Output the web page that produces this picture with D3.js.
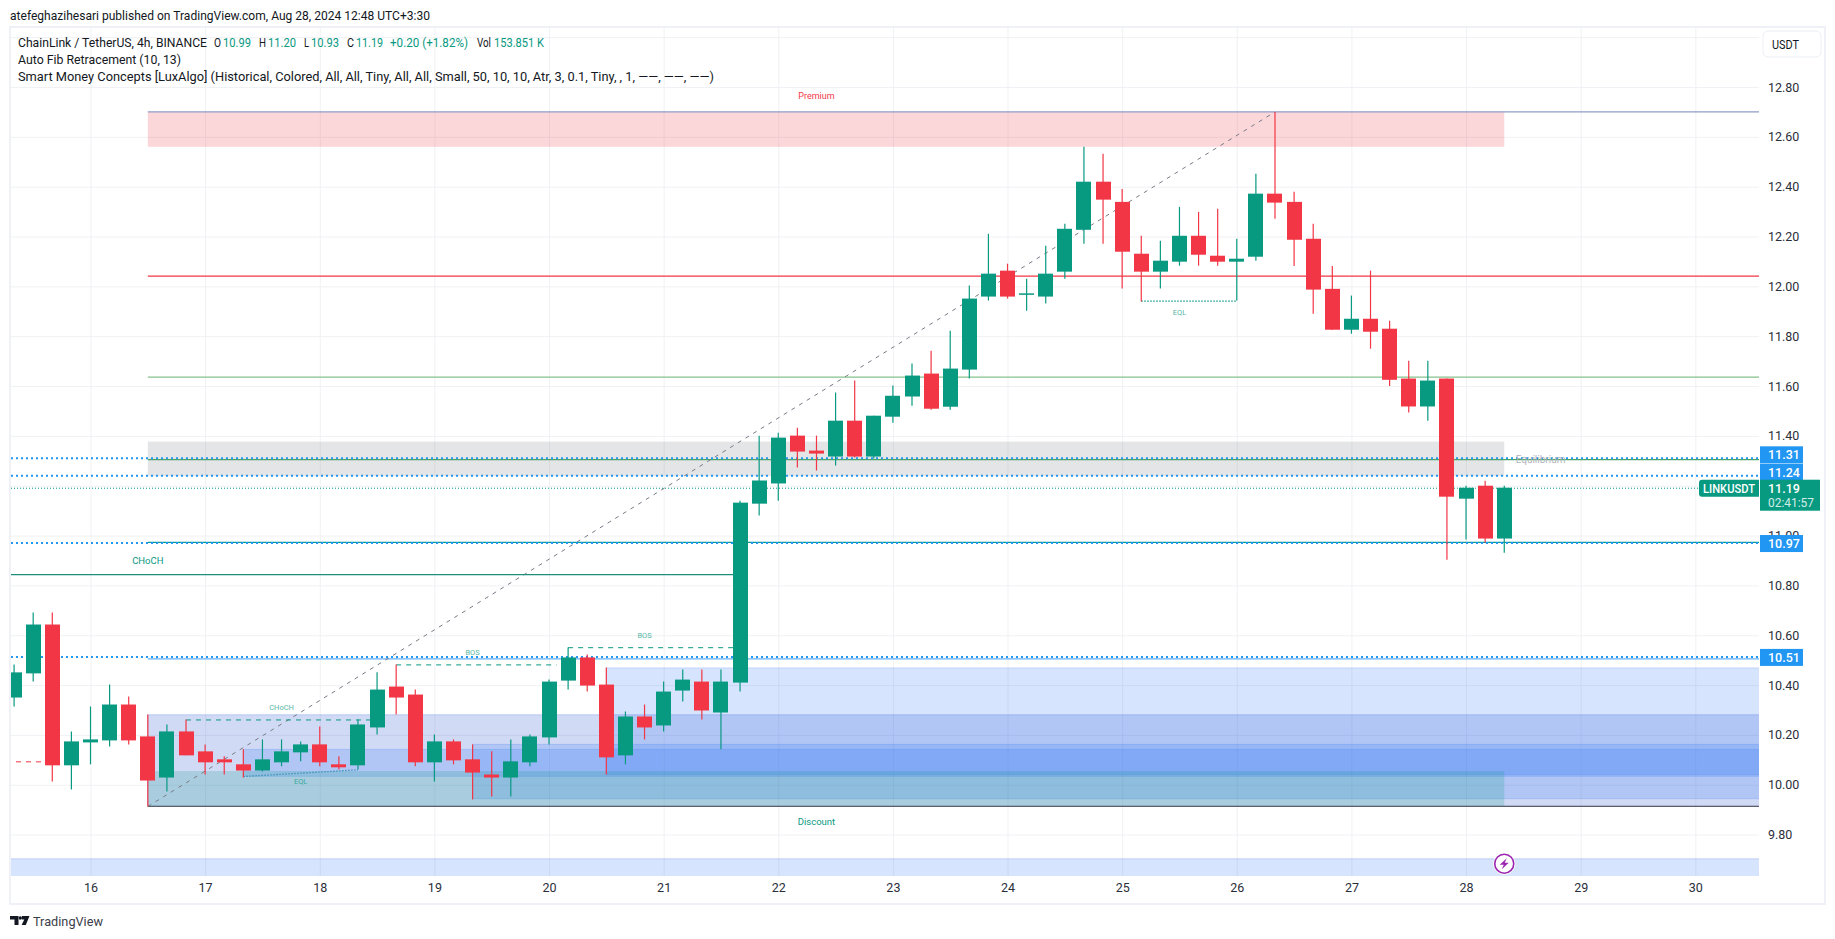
<!DOCTYPE html>
<html lang="en">
<head>
    <meta charset="UTF-8">
    <script src="https://d3js.org/d3.v7.min.js"></script>
    <title>LINKUSDT 4h</title>
    <style>
        html, body { margin: 0; padding: 0; background: #fff; }
        svg { display: block; }
        text { font-family: Roboto, sans-serif; }
    </style>
</head>
<body>
    <div id="chart"></div>
    <script>
        // candles, 4h, first one is clipped by the left edge
        const opens = [10.350,10.447,10.643,10.078,10.170,10.178,10.322,10.194,10.029,10.214,
            10.134,10.102,10.082,10.057,10.090,10.130,10.162,10.082,10.078,10.230,
            10.394,10.362,10.090,10.174,10.102,10.041,10.029,10.090,10.190,10.418,
            10.511,10.402,10.118,10.274,10.238,10.378,10.414,10.290,10.410,11.128,
            11.209,11.401,11.341,11.317,11.461,11.317,11.477,11.558,11.650,11.517,
            11.666,11.959,12.063,11.967,11.959,12.059,12.227,12.420,12.339,12.131,
            12.059,12.099,12.203,12.123,12.099,12.119,12.372,12.339,12.191,11.990,
            11.826,11.870,11.830,11.630,11.518,11.630,11.148,11.200,10.988];
        const closes = [10.451,10.643,10.078,10.174,10.182,10.322,10.178,10.017,10.214,10.118,
            10.090,10.090,10.057,10.102,10.134,10.162,10.090,10.070,10.242,10.382,
            10.350,10.090,10.174,10.098,10.049,10.029,10.094,10.194,10.414,10.511,
            10.398,10.110,10.274,10.230,10.374,10.422,10.298,10.414,11.132,11.221,
            11.393,11.337,11.329,11.461,11.317,11.481,11.561,11.642,11.509,11.670,
            11.951,12.051,11.959,11.972,12.051,12.231,12.420,12.348,12.139,12.059,
            12.103,12.203,12.127,12.099,12.111,12.372,12.336,12.187,11.987,11.826,
            11.870,11.818,11.625,11.518,11.622,11.156,11.192,10.988,11.192];
        const highs = [10.483,10.691,10.691,10.214,10.314,10.402,10.354,10.282,10.242,10.262,
            10.162,10.114,10.142,10.182,10.182,10.174,10.234,10.114,10.262,10.451,
            10.483,10.382,10.202,10.182,10.162,10.134,10.182,10.202,10.422,10.551,
            10.523,10.471,10.294,10.322,10.414,10.463,10.463,10.463,11.140,11.401,
            11.413,11.433,11.401,11.574,11.622,11.481,11.602,11.690,11.742,11.822,
            12.003,12.211,12.091,12.031,12.163,12.251,12.560,12.532,12.391,12.203,
            12.183,12.319,12.299,12.311,12.191,12.452,12.700,12.380,12.251,12.082,
            11.963,12.063,11.862,11.701,11.701,11.630,11.200,11.220,11.200];
        const lows = [10.314,10.414,10.013,9.981,10.082,10.154,10.162,9.913,9.973,10.118,
            10.041,10.041,10.029,10.053,10.074,10.094,10.074,10.061,10.061,10.202,
            10.282,10.074,10.013,10.082,9.941,9.953,9.953,10.074,10.162,10.382,
            10.374,10.041,10.082,10.182,10.214,10.334,10.262,10.142,10.374,11.080,
            11.140,11.273,11.261,11.281,11.313,11.309,11.453,11.521,11.505,11.505,
            11.630,11.943,11.951,11.902,11.931,12.031,12.171,12.171,11.991,11.939,
            11.991,12.083,12.083,12.083,11.943,12.103,12.271,12.082,11.890,11.826,
            11.810,11.750,11.600,11.494,11.461,10.903,10.984,10.972,10.931];

        const priceTicks = [9.8,10,10.2,10.4,10.6,10.8,11,11.2,11.4,11.6,11.8,12,12.2,12.4,12.6,12.8,13];
        const hiddenPriceTicks = [13];
        const dayTicks = [16,17,18,19,20,21,22,23,24,25,26,27,28,29,30];

        // order blocks: first candle, top, bottom
        const blockStarts = [7, 12, 24, 31];
        const blockTops = [10.281, 10.142, 10.162, 10.469];
        const blockBottoms = [9.914, 10.034, 9.944, 10.041];
        const swingBlock = 7;

        const zoneStart = 7, zoneEnd = 78;
        const premiumTop = 12.70, premiumBottom = 12.56;
        const equilibriumTop = 11.377, equilibriumBottom = 11.238;
        const discountTop = 10.055, discountBottom = 9.913;
        const lowestBandTop = 9.703;

        const fibLevels = [12.70, 12.041, 11.636, 11.305, 10.973, 10.505, 9.913];
        const fibColors = ['#8f9dc9', '#f23645', '#86c28b', '#4fa463', '#0b9b93', '#64b0f6', '#5d606b'];
        const fibFrom = {i: 7, p: 9.913}, fibTo = {i: 66, p: 12.70};

        const priceLines = [11.31, 11.24, 10.97, 10.513];
        const priceLineTags = [{v: '11.31', p: 11.324}, {v: '11.24', p: 11.254}, {v: '10.97', p: 10.968}, {v: '10.51', p: 10.511}];
        const lastPrice = 11.19;
        const chochLevel = 10.843;

        // structure lines: from candle, to candle, level
        const dashLines = [
            {a: 9, b: 19, p: 10.26, c: '#089981'},
            {a: 20, b: 28.4, p: 10.481, c: '#089981'},
            {a: 29, b: 38, p: 10.55, c: '#089981'},
            {a: 0.1, b: 2, p: 10.092, c: '#f23645'}
        ];
        const eqLines = [
            {a: 12, pa: 10.033, b: 18, pb: 10.06, c: '#3f93b8'},
            {a: 59, pa: 11.941, b: 64, pb: 11.941, c: '#089981'}
        ];

        const width = 1835, height = 939;
        const plotL = 11, plotR = 1759, plotT = 28, plotB = 876;

        const y = d3.scaleLinear().domain([9.8, 12.8]).range([834.6, 87]);
        const x = d3.scaleLinear().domain([16, 30]).range([90.5, 1695.3]);
        const xi = i => x(15 + (i + 2) / 6);

        const svg = d3.select('#chart').append('svg').attr('width', width).attr('height', height);

        svg.append('defs').append('clipPath').attr('id', 'plot')
            .append('rect').attr('x', plotL).attr('y', plotT).attr('width', plotR - plotL).attr('height', plotB - plotT);

        // frame
        svg.append('rect').attr('x', 10).attr('y', 27).attr('width', 1815).attr('height', 877)
            .attr('fill', 'none').attr('stroke', '#f0f1f6').attr('stroke-width', 2);

        // grid + axes
        const gridX = svg.append('g').attr('transform', `translate(0,${plotB})`)
            .call(d3.axisBottom(x).tickValues(dayTicks).tickSize(-(plotB - plotT)).tickSizeOuter(0).tickFormat(d3.format('d')));
        gridX.select('.domain').remove();
        gridX.selectAll('line').attr('stroke', '#f0f1f4');
        gridX.selectAll('text').attr('y', 7.5).attr('dy', '0.71em').attr('font-size', 12.5).attr('fill', '#2a2e39');

        const gridY = svg.append('g').attr('transform', `translate(${plotR},0)`)
            .call(d3.axisRight(y).tickValues(priceTicks).tickSize(0).tickPadding(9).tickFormat(d3.format('.2f')));
        gridY.select('.domain').remove();
        gridY.selectAll('line').attr('x2', plotL - plotR).attr('stroke', '#f0f1f4');
        gridY.selectAll('text').attr('font-size', 12.5).attr('fill', '#2a2e39')
            .filter(d => hiddenPriceTicks.includes(d)).remove();

        const plot = svg.append('g').attr('clip-path', 'url(#plot)');

        // zones
        function zone(from, to, pTop, pBottom, fill) {
            return plot.append('rect')
                .attr('x', xi(from)).attr('width', xi(to) - xi(from))
                .attr('y', y(pTop)).attr('height', y(pBottom) - y(pTop))
                .attr('fill', fill);
        }

        // blocks run off the right edge
        blockStarts.forEach((s, k) => {
            let c = s === swingBlock ? '24,72,204' : '49,121,245';
            zone(s, 95, blockTops[k], blockBottoms[k], `rgba(${c},0.2)`)
                .attr('stroke', `rgba(${c},0.2)`);
        });
        zone(-10, 95, lowestBandTop, 9.4, 'rgba(49,121,245,0.2)').attr('stroke', 'rgba(24,72,204,0.2)');

        zone(zoneStart, zoneEnd, premiumTop, premiumBottom, 'rgba(242,54,69,0.2)');
        zone(zoneStart, zoneEnd, equilibriumTop, equilibriumBottom, 'rgba(120,123,134,0.2)');
        zone(zoneStart, zoneEnd, discountTop, discountBottom, 'rgba(8,153,129,0.2)');

        // fib levels
        plot.selectAll('line.fib').data(fibLevels).join('line').attr('class', 'fib')
            .attr('x1', xi(zoneStart)).attr('x2', plotR)
            .attr('y1', d => y(d)).attr('y2', d => y(d))
            .attr('stroke', (d, k) => fibColors[k]).attr('stroke-width', 1.2);

        plot.append('line')
            .attr('x1', xi(fibFrom.i)).attr('y1', y(fibFrom.p))
            .attr('x2', xi(fibTo.i)).attr('y2', y(fibTo.p))
            .attr('stroke', '#787b86').attr('stroke-width', 1).attr('stroke-dasharray', '4 5');

        // break of structure stuff
        plot.append('line').attr('x1', plotL).attr('x2', xi(38))
            .attr('y1', y(chochLevel)).attr('y2', y(chochLevel))
            .attr('stroke', '#1f8f7d').attr('stroke-width', 1.2);

        plot.selectAll('line.dash').data(dashLines).join('line').attr('class', 'dash')
            .attr('x1', d => xi(d.a)).attr('x2', d => xi(d.b))
            .attr('y1', d => y(d.p)).attr('y2', d => y(d.p))
            .attr('stroke', d => d.c).attr('stroke-width', 1).attr('stroke-dasharray', '5 5');

        plot.selectAll('line.eq').data(eqLines).join('line').attr('class', 'eq')
            .attr('x1', d => xi(d.a)).attr('x2', d => xi(d.b))
            .attr('y1', d => y(d.pa)).attr('y2', d => y(d.pb))
            .attr('stroke', d => d.c).attr('stroke-width', 1.3).attr('stroke-dasharray', '1.5 1.5');

        // dotted price lines
        plot.selectAll('line.price').data(priceLines).join('line').attr('class', 'price')
            .attr('x1', plotL).attr('x2', plotR)
            .attr('y1', d => y(d)).attr('y2', d => y(d))
            .attr('stroke', '#2196f3').attr('stroke-width', 2).attr('stroke-dasharray', '2 3');

        plot.append('line').attr('x1', plotL).attr('x2', plotR)
            .attr('y1', y(lastPrice)).attr('y2', y(lastPrice))
            .attr('stroke', '#089981').attr('stroke-width', 1).attr('stroke-dasharray', '1 2');

        // candles
        const candles = plot.selectAll('g.candle').data(opens).join('g').attr('class', 'candle')
            .attr('fill', (d, i) => closes[i] >= d ? '#089981' : '#f23645')
            .attr('stroke', (d, i) => closes[i] >= d ? '#089981' : '#f23645');
        candles.append('line')
            .attr('x1', (d, i) => xi(i)).attr('x2', (d, i) => xi(i))
            .attr('y1', (d, i) => y(highs[i])).attr('y2', (d, i) => y(lows[i]))
            .attr('stroke-width', 1.2);
        candles.append('rect')
            .attr('x', (d, i) => Math.round(xi(i) - 7.5)).attr('width', 15)
            .attr('y', (d, i) => y(Math.max(d, closes[i])))
            .attr('height', (d, i) => Math.max(1.5, Math.abs(y(d) - y(closes[i]))))
            .attr('stroke', 'none');

        // chart labels
        const labels = [
            {t: 'Premium', i: 42, p: 12.762, c: '#f23645', s: 9},
            {t: 'Discount', i: 42, p: 9.853, c: '#089981', s: 9.5},
            {t: 'CHoCH', i: 7, p: 10.90, c: '#089981', s: 9.5},
            {t: 'CHoCH', i: 14, p: 10.312, c: '#089981', s: 7.5, o: 0.7},
            {t: 'EQL', i: 15, p: 10.014, c: '#089981', s: 7.5, o: 0.7},
            {t: 'EQL', i: 61, p: 11.894, c: '#089981', s: 7.5, o: 0.7},
            {t: 'BOS', i: 24, p: 10.532, c: '#089981', s: 7.5, o: 0.7},
            {t: 'BOS', i: 33, p: 10.6, c: '#089981', s: 7.5, o: 0.7},
            {t: 'Equilibrium', i: 79.9, p: 11.305, c: '#b2b5be', s: 10}
        ];
        svg.append('g').selectAll('text').data(labels).join('text')
            .attr('x', d => xi(d.i)).attr('y', d => y(d.p))
            .attr('text-anchor', 'middle').attr('dominant-baseline', 'central')
            .attr('font-size', d => d.s).attr('fill', d => d.c).attr('opacity', d => d.o || 1)
            .text(d => d.t);

        // price tags
        const tags = svg.append('g').selectAll('g').data(priceLineTags).join('g')
            .attr('transform', d => `translate(1760,${y(d.p)})`);
        tags.append('rect').attr('y', -8.5).attr('width', 43).attr('height', 17).attr('fill', '#2196f3');
        tags.append('text').attr('x', 8).attr('dominant-baseline', 'central').attr('font-size', 12.5)
            .attr('font-weight', 500).attr('fill', '#fff').text(d => d.v);

        const yLast = y(lastPrice);
        svg.append('path')
            .attr('d', `M1759 ${yLast - 8.5}H1702a3 3 0 0 0 -3 3V${yLast + 5.5}a3 3 0 0 0 3 3H1759Z`)
            .attr('fill', '#089981');
        svg.append('text').attr('x', 1703).attr('y', yLast).attr('dominant-baseline', 'central')
            .attr('font-size', 13).attr('font-weight', 500).attr('fill', '#fff')
            .attr('textLength', 52).attr('lengthAdjust', 'spacingAndGlyphs').text('LINKUSDT');
        svg.append('rect').attr('x', 1760).attr('y', yLast - 8.5).attr('width', 60).attr('height', 31).attr('fill', '#089981');
        svg.append('text').attr('x', 1768).attr('y', yLast).attr('dominant-baseline', 'central')
            .attr('font-size', 12.5).attr('font-weight', 500).attr('fill', '#fff').text(lastPrice.toFixed(2));
        svg.append('text').attr('x', 1768).attr('y', yLast + 14.5).attr('dominant-baseline', 'central')
            .attr('font-size', 13).attr('fill', '#d2ece7')
            .attr('textLength', 46).attr('lengthAdjust', 'spacingAndGlyphs').text('02:41:57');

        // currency button
        svg.append('rect').attr('x', 1763).attr('y', 31).attr('width', 58).attr('height', 26).attr('rx', 5)
            .attr('fill', '#fff').attr('stroke', '#eceef3');
        svg.append('text').attr('x', 1772).attr('y', 44.5).attr('dominant-baseline', 'central')
            .attr('font-size', 13).attr('fill', '#131722')
            .attr('textLength', 27).attr('lengthAdjust', 'spacingAndGlyphs').text('USDT');

        // alert marker
        const bolt = svg.append('g').attr('transform', `translate(${xi(78)},${863.7})`);
        bolt.append('circle').attr('r', 10).attr('fill', '#fff').attr('stroke', '#fff').attr('stroke-width', 2);
        bolt.append('circle').attr('r', 9.5).attr('fill', '#fff').attr('stroke', '#9c27b0').attr('stroke-width', 1.6);
        bolt.append('path').attr('d', 'M2.5 -5.5L-4.5 1H-0.5L-2.5 5.5L4.5 -1H0.5Z').attr('fill', '#9c27b0');

        // header + legend, squeezed to the measured widths
        const ink = '#131722', up = '#089981';
        function line(t, x0, x1, yy, c) {
            svg.append('text').attr('x', x0).attr('y', yy).attr('dominant-baseline', 'central')
                .attr('font-size', 13).attr('fill', c)
                .attr('textLength', x1 - x0).attr('lengthAdjust', 'spacingAndGlyphs').text(t);
        }
        line('atefeghazihesari published on TradingView.com, Aug 28, 2024 12:48 UTC+3:30', 10, 430, 15, ink);
        line('ChainLink / TetherUS, 4h, BINANCE', 18, 207, 42, ink);
        line('O', 214, 221, 42, ink);
        line('10.99', 223, 251, 42, up);
        line('H', 259, 266, 42, ink);
        line('11.20', 268, 296, 42, up);
        line('L', 304, 309, 42, ink);
        line('10.93', 311, 339, 42, up);
        line('C', 347, 354, 42, ink);
        line('11.19', 356, 383, 42, up);
        line('+0.20 (+1.82%)', 390, 468, 42, up);
        line('Vol', 477, 491, 42, ink);
        line('153.851 K', 494, 544, 42, up);
        line('Auto Fib Retracement (10, 13)', 18, 181, 59, ink);
        line('Smart Money Concepts [LuxAlgo] (Historical, Colored, All, All, Tiny, All, All, Small, 50, 10, 10, Atr, 3, 0.1, Tiny, , 1, ——, ——, ——)', 18, 714, 76, ink);

        // logo
        svg.append('path')
            .attr('d', 'M10 916H18.5V925H14.5V919.5H10ZM22 916H29.5L25.8 925H21.6L24.3 919.5H22Z')
            .attr('fill', '#131722');
        svg.append('circle').attr('cx', 20.3).attr('cy', 918).attr('r', 1.7).attr('fill', '#131722');
        line('TradingView', 33, 103, 921.5, '#3a3e4a');
    </script>
</body>
</html>
